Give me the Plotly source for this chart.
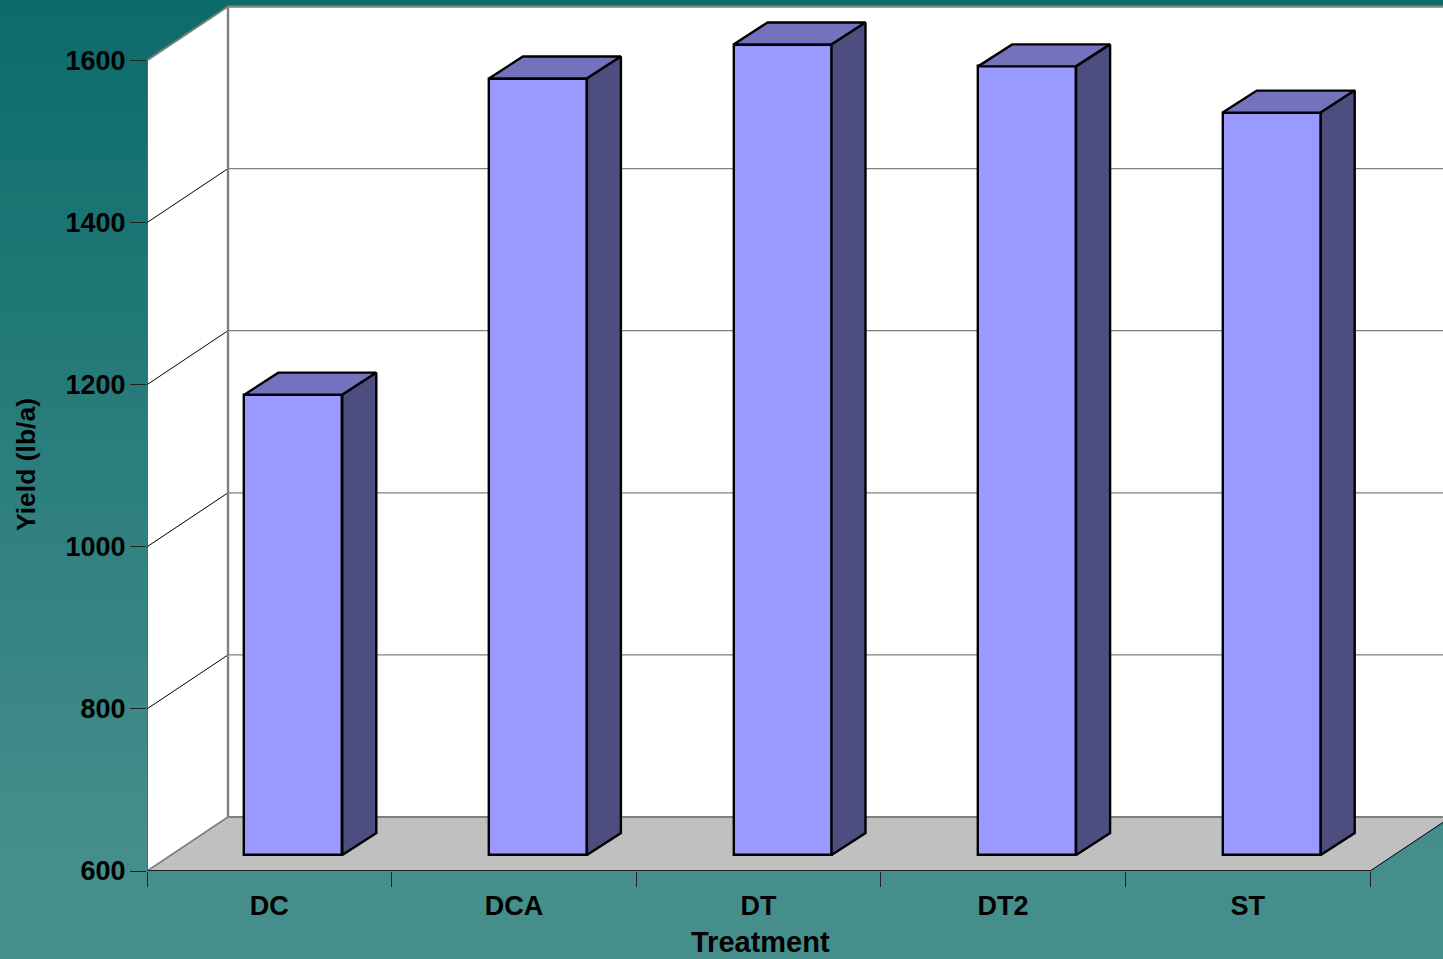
import plotly.graph_objects as go

categories = ["DC", "DCA", "DT", "DT2", "ST"]
yield_values = [1168, 1558, 1600, 1573, 1516]
y_ticks = [600, 800, 1000, 1200, 1400, 1600]

W, H = 1443, 959
LEFT, BOTTOM_PX = 147, 871          # pixel position of the front axis corner
SLOT_PX = 244.6                     # pixels per category
UNIT_PX = 0.8105                    # pixels per yield unit
YMIN = 600
XMAX = (W - LEFT) / SLOT_PX
YMAX = YMIN + BOTTOM_PX / UNIT_PX

# 3-D projection expressed in data units
WALL_DX, WALL_DY = 81 / SLOT_PX, 54 / UNIT_PX
BAR_DX, BAR_DY = 34 / SLOT_PX, 22 / UNIT_PX
BAR_OFF_X, BAR_OFF_Y = 24 / SLOT_PX, 16 / UNIT_PX
BAR_W = 98 / SLOT_PX
N = len(categories)

FRONT, TOP, SIDE = "#9999ff", "#7373bd", "#4d4d80"
GREY = "#808080"
FONT = "Liberation Sans"


def poly(pts):
    return "M" + " L".join(f"{x},{y}" for x, y in pts) + " Z"


shapes = []
# background gradient
top_c, bot_c = (12, 108, 107), (70, 142, 140)
steps = 100
for i in range(steps):
    t = min(1, i / (steps - 1) / 0.9)
    c = tuple(round(a + (b - a) * t) for a, b in zip(top_c, bot_c))
    shapes.append(dict(type="rect", xref="paper", yref="paper", layer="below",
                       x0=-LEFT / (W - LEFT), x1=1.01,
                       y0=(BOTTOM_PX - (i + 1.2) * H / steps) / BOTTOM_PX,
                       y1=(BOTTOM_PX - i * H / steps) / BOTTOM_PX,
                       fillcolor=f"rgb{c}", line_width=0))

far_x = N + WALL_DX
data_top = max(y_ticks)
# back wall
shapes.append(dict(type="path", xref="x", yref="y", layer="below", fillcolor="white", line_width=0,
                   path=poly([(WALL_DX, YMIN + WALL_DY), (far_x, YMIN + WALL_DY),
                              (far_x, data_top + WALL_DY), (WALL_DX, data_top + WALL_DY)])))
# side wall
shapes.append(dict(type="path", xref="x", yref="y", layer="below", fillcolor="white", line_width=0,
                   path=poly([(0, YMIN), (WALL_DX, YMIN + WALL_DY),
                              (WALL_DX, data_top + WALL_DY), (0, data_top)])))
# floor
shapes.append(dict(type="path", xref="x", yref="y", layer="below", fillcolor="#c0c0c0", line_width=0,
                   path=poly([(0, YMIN), (WALL_DX, YMIN + WALL_DY), (far_x, YMIN + WALL_DY), (N, YMIN)])))


def seg(x0, y0, x1, y1, color, width):
    shapes.append(dict(type="line", xref="x", yref="y", layer="below",
                       x0=x0, y0=y0, x1=x1, y1=y1, line=dict(color=color, width=width)))


for v in y_ticks[1:-1]:
    seg(0, v, WALL_DX, v + WALL_DY, "black", 1)
    seg(WALL_DX, v + WALL_DY, far_x, v + WALL_DY, GREY, 1.3)
seg(WALL_DX, YMIN + WALL_DY, far_x, YMIN + WALL_DY, GREY, 1.8)
seg(WALL_DX, data_top + WALL_DY, far_x, data_top + WALL_DY, GREY, 2.4)
seg(WALL_DX, YMIN + WALL_DY, WALL_DX, data_top + WALL_DY, GREY, 2.4)
seg(0, data_top, WALL_DX, data_top + WALL_DY, GREY, 2)
seg(0, YMIN, WALL_DX, YMIN + WALL_DY, GREY, 1.8)
seg(N, YMIN, far_x, YMIN + WALL_DY, "black", 1)

fig = go.Figure()

base = YMIN + BAR_OFF_Y
lefts = [i + BAR_OFF_X + (1 - BAR_W) / 2 for i in range(N)]
centers = [l + BAR_W / 2 for l in lefts]
fig.add_trace(go.Bar(x=centers, y=[v - YMIN for v in yield_values], base=base, width=BAR_W,
                     marker=dict(color=FRONT, line=dict(color="black", width=2.4)),
                     hoverinfo="skip", showlegend=False))

for l, v in zip(lefts, yield_values):
    r = l + BAR_W
    t = v + BAR_OFF_Y
    top_x = [l, l + BAR_DX, r + BAR_DX, r, l]
    top_y = [t, t + BAR_DY, t + BAR_DY, t, t]
    side_x = [r, r + BAR_DX, r + BAR_DX, r, r]
    side_y = [t, t + BAR_DY, base + BAR_DY, base, t]
    for xs, ys, col in ((top_x, top_y, TOP), (side_x, side_y, SIDE)):
        fig.add_trace(go.Scatter(x=xs, y=ys, mode="lines", fill="toself", fillcolor=col,
                                 line=dict(color="black", width=2.4), hoverinfo="skip", showlegend=False))

# visible axis lines ending at the data limits
fig.add_trace(go.Scatter(x=[0, N], y=[YMIN, YMIN], mode="lines", line=dict(color="#222222", width=1.8),
                         cliponaxis=False, hoverinfo="skip", showlegend=False))
fig.add_trace(go.Scatter(x=[0, 0], y=[YMIN, data_top], mode="lines", line=dict(color="#222222", width=1.4),
                         cliponaxis=False, hoverinfo="skip", showlegend=False))

tick_font = dict(family=FONT, size=27, color="black", weight="bold")
fig.update_layout(
    width=W, height=H, autosize=False,
    margin=dict(l=LEFT, r=0, t=0, b=H - BOTTOM_PX, pad=0),
    paper_bgcolor="#468e8c", plot_bgcolor="rgba(0,0,0,0)",
    showlegend=False, shapes=shapes, bargap=0,
    font=dict(family=FONT),
    xaxis=dict(range=[0, XMAX], showgrid=False, zeroline=False, showline=False,
               tickmode="array", tickvals=[i + 0.5 for i in range(N)], ticktext=categories,
               ticks="", ticklabelstandoff=16, tickfont=tick_font,
               minor=dict(tickmode="array", tickvals=list(range(N + 1)), ticks="outside",
                          ticklen=15, tickcolor="#222222", tickwidth=1, showgrid=False)),
    yaxis=dict(range=[YMIN, YMAX], showgrid=False, zeroline=False, showline=False,
               tickmode="array", tickvals=y_ticks, ticks="outside", ticklen=16,
               tickcolor="#222222", tickwidth=1, ticklabelstandoff=-1, tickfont=tick_font),
    annotations=[
        dict(text="<b>Treatment</b>", xref="paper", yref="paper", x=(760 - LEFT) / (W - LEFT),
             y=(BOTTOM_PX - 942) / BOTTOM_PX, showarrow=False, xanchor="center", yanchor="middle",
             font=dict(family=FONT, size=29, color="black")),
        dict(text="<b>Yield (lb/a)</b>", xref="paper", yref="paper", x=(26 - LEFT) / (W - LEFT),
             y=(BOTTOM_PX - 465) / BOTTOM_PX, showarrow=False, textangle=-90, xanchor="center",
             yanchor="middle", font=dict(family=FONT, size=26.5, color="black")),
    ],
)
fig.write_html("out.html", config=dict(displayModeBar=False),
               post_script="document.body.style.margin='0';document.body.style.overflow='hidden';"
                           "document.documentElement.style.overflow='hidden';")
